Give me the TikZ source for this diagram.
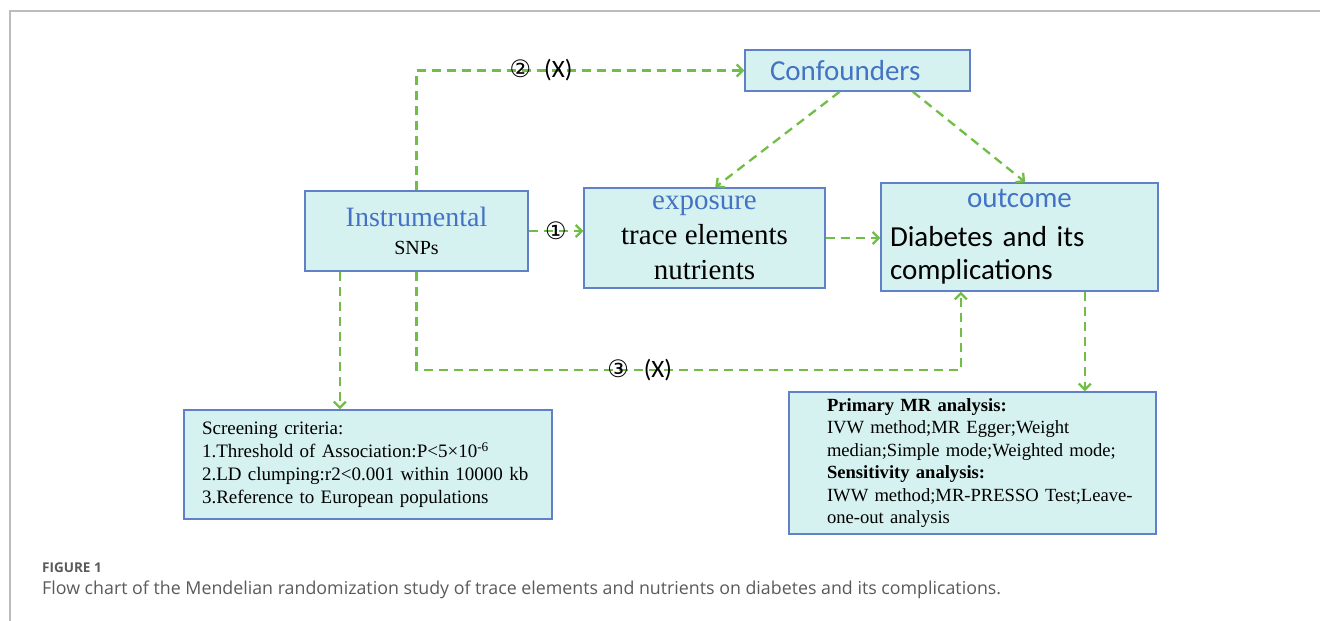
\documentclass[tikz,border=0pt]{standalone}
\usepackage{fontspec}
\setmainfont{Liberation Serif}
\newfontfamily\calibri{Carlito}
\newfontfamily\symbolfont{DejaVu Sans}
\newfontfamily\captionfont{Open Sans}
\usetikzlibrary{arrows.meta}
\definecolor{boxblue}{RGB}{96,128,200}
\definecolor{boxfill}{RGB}{214,242,240}
\definecolor{linkgreen}{RGB}{112,190,70}
\definecolor{textblue}{RGB}{68,114,196}
\definecolor{capgray}{RGB}{90,90,90}
\definecolor{framegray}{RGB}{188,188,188}
\tikzset{
    block/.style = {draw=boxblue, fill=boxfill, line width=1.5pt, rectangle,
        inner sep=0pt, align=center},
    arrow/.style = {draw=linkgreen, line width=2.3pt, dash pattern=on 9pt off 6pt,
        -{Straight Barb[length=6pt,width=12pt]}},
    tag/.style = {font=\calibri\fontsize{25}{26}\selectfont, inner sep=0pt},
    caption/.style = {anchor=west, inner sep=0pt, text=capgray}
}
\newcommand{\circnum}[1]{{\symbolfont\fontsize{24}{25}\selectfont #1}}

\begin{document}
\begin{tikzpicture}[x=1pt, y=-1pt]
    \useasboundingbox (0,0) rectangle (1320,621);
    % page frame
    \draw [framegray, line width=1.5pt] (10,621) -- (10,11) -- (1320,11);
    % boxes
    \node [block, minimum width=225pt, minimum height=41pt, text width=175pt, inner xsep=25pt,
        align=left, text=textblue, font=\calibri\fontsize{29}{34}\selectfont] (conf) at (857.5,70.5) {Confounders};
    \node [block, minimum width=223pt, minimum height=80pt, font=\fontsize{20}{28}\selectfont] (inst) at (416.5,231)
        {{\fontsize{28}{30}\selectfont\color{textblue}Instrumental}\\{SNPs}};
    \node [block, minimum width=241pt, minimum height=100pt, font=\fontsize{29}{35}\selectfont] (expo) at (704.5,238)
        {{\color{textblue}exposure}\\trace elements\\nutrients};
    \node [block, minimum width=277pt, minimum height=108pt, text width=259pt, inner xsep=9pt,
        align=left, font=\calibri\fontsize{29}{33}\selectfont] (outc) at (1019.5,237)
        {\makebox[\linewidth]{\color{textblue}outcome}\\[6pt]Diabetes and its\\complications};
    \node [block, minimum width=368pt, minimum height=109pt, text width=332pt, inner xsep=18pt,
        align=left, font=\fontsize{19}{23}\selectfont] (screen) at (368,464.5)
        {Screening criteria:\\1.Threshold of Association:P<5×10\textsuperscript{-6}\\2.LD clumping:r2<0.001 within 10000 kb\\3.Reference to European populations};
    \node [block, minimum width=367pt, minimum height=142pt, text width=361pt, inner xsep=3pt,
        align=left, font=\fontsize{18.6}{22.5}\selectfont] (prim) at (972.5,463)
        {\leftskip=35pt\textbf{Primary MR analysis:}\\IVW method;MR Egger;Weight\\median;Simple mode;Weighted mode;\\\textbf{Sensitivity analysis:}\\IWW method;MR-PRESSO Test;Leave-\\one-out analysis\par};
    % connectors
    \draw [arrow] (inst.north) |- node [tag, pos=0.69] {\circnum{②}\hspace{13pt}(X)} (conf.west);
    \draw [arrow] (inst.east) -- node [tag] {\circnum{①}} (inst.east -| expo.west);
    \draw [arrow] (expo.east) -- (expo.east -| outc.west);
    \draw [arrow] (conf.230) -- (expo.78);
    \draw [arrow] (conf.339) -- (outc.84);
    \draw [arrow] (inst.208.6) -- (inst.208.6 |- screen.north);
    \draw [arrow] (inst.south) -- ++(0,98) -| node [tag, pos=0.205] {\circnum{③}\hspace{15pt}(X)} (outc.223);
    \draw [arrow] (outc.320.5) -- (outc.320.5 |- prim.north);
    % caption
    \node [caption, font=\captionfont\bfseries\fontsize{13.5}{15}\selectfont] (figno) at (42,568) {FIGURE 1};
    \node [caption, font=\captionfont\fontsize{17.8}{20}\selectfont] (figcap) at (42,590)
        {Flow chart of the Mendelian randomization study of trace elements and nutrients on diabetes and its complications.};
\end{tikzpicture}
\end{document}
